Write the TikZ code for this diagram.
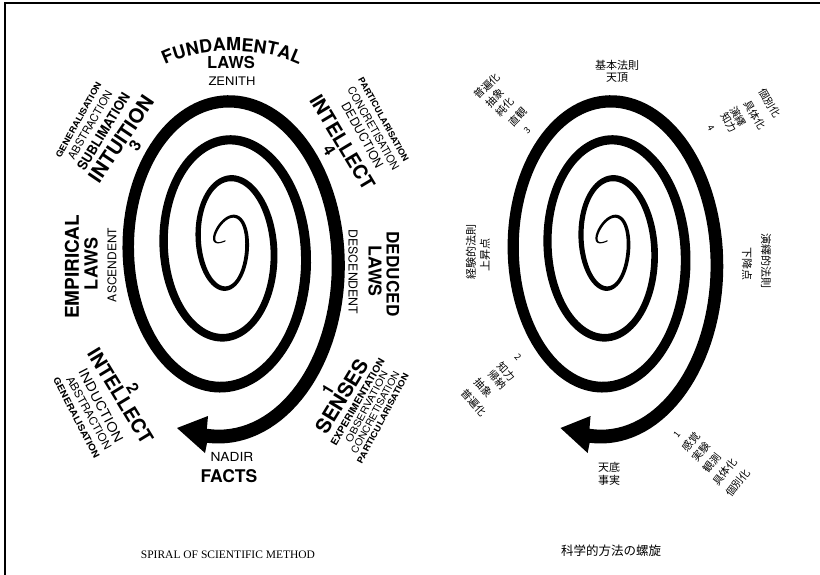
\documentclass[tikz,border=0pt]{standalone}
\usepackage{fontspec}
\setmainfont{TeX Gyre Heros}
\newfontfamily\capfont{Liberation Serif}
\newfontfamily\jpfont{Noto Sans CJK JP}
\usetikzlibrary{decorations.text}
\newcommand\myfs[1]{\fontsize{#1}{#1}\selectfont}
\tikzset{
  lbl/.style={inner sep=0pt, outer sep=0pt, text=black},
  big/.style={lbl, font=\bfseries\myfs{#1}},
  med/.style={lbl, font=\myfs{#1}},
  jp/.style={lbl, font=\jpfont\myfs{#1}},
  capstyle/.style={lbl, font=\capfont\myfs{#1}},
  spiralpic/.pic={
    \fill[black]
      plot[variable=\t, domain=-0.4:7.547, samples=500]
        ({spx(\t)-(spa(\t)+spw(\t)/2)*cos(180*\t)},{spy(\t)-(spb(\t)+spw(\t)/2)*sin(180*\t)})
      -- (205,453) -- (177,428) -- (208,416)
      -- plot[variable=\t, domain=7.547:-0.4, samples=500]
        ({spx(\t)-(spa(\t)-spw(\t)/2)*cos(180*\t)},{spy(\t)-(spb(\t)-spw(\t)/2)*sin(180*\t)})
      -- cycle;
  }
}
\begin{document}
\begin{tikzpicture}[x=1pt,y=-1pt,
  declare function={
    spa(\u)=15+8.5*((\u-1.2)+sqrt((\u-1.2)*(\u-1.2)+0.25));
    spb(\u)=12.1+22*\u;
    spx(\u)=230-0.8*\u;
    spy(\u)=238.7+2.75*\u;
    spw(\u)=2.2+1.55*\u;
  }]
\useasboundingbox (0,0) rectangle (820,575);
\fill[white] (0,0) rectangle (820,575);
\draw[line width=2pt] (5,575) -- (5,3.5) -- (820,3.5);

% spirals
\pic (spL) at (0,0) {spiralpic};
\pic[xscale=0.97] (spR) at (388.8,0) {spiralpic};

% ---------- English labels ----------
\path[decorate, decoration={text along path, text align=center,
  text={|\bfseries\myfs{18}|FUNDAMENTAL}}]
  (162,66) .. controls (200,46) and (264,46) .. (302,66);
\node[big=16.5] (lawsT) at (231,62.5) {LAWS};
\node[med=11.8, xscale=1.1] (zenith) at (232,81.5) {ZENITH};

% upper left
\node[big=8.5, rotate=61, xscale=1.13] (genUL) at (78.5,120) {GENERALISATION};
\node[med=11, rotate=60] (absUL) at (90,125) {ABSTRACTION};
\node[big=13.5, rotate=58.5, xscale=0.95] (subUL) at (103.5,131.5) {SUBLIMATION};
\node[big=20, rotate=56] (intuit) at (121,139) {INTUITION};
\node[big=16, rotate=56] (n3) at (135,146) {3};

% upper right
\node[big=8.5, rotate=-61, xscale=1.07] (partUR) at (383.5,119.5) {PARTICULARISATION};
\node[med=11, rotate=-60.5, xscale=0.96] (concUR) at (373.5,128.5) {CONCRETISATION};
\node[med=12.3, rotate=-61] (dedUR) at (362.5,135) {DEDUCTION};
\node[big=19.5, rotate=-59] (intelUR) at (342.5,142.5) {INTELLECT};
\node[big=16, rotate=-59] (n4) at (329.2,150.5) {4};

% middle
\node[big=19, rotate=90] (empir) at (72,267) {EMPIRICAL};
\node[big=18, rotate=90] (lawsL) at (91,264) {LAWS};
\node[med=12, rotate=90] (ascend) at (112,265) {ASCENDENT};
\node[big=17.2, rotate=-90] (deduced) at (393,274) {DEDUCED};
\node[big=17.7, rotate=-90] (lawsR) at (375,271) {LAWS};
\node[med=12.3, rotate=-90] (descend) at (353,272) {DESCENDENT};

% lower left
\node[big=19.5, rotate=-58.7] (intelLL) at (120.5,396) {INTELLECT};
\node[big=16, rotate=-59] (n2) at (133,388.5) {2};
\node[med=13, rotate=-62.5, xscale=1.12] (induct) at (101,405.5) {INDUCTION};
\node[med=11, rotate=-61.3, xscale=1.05] (absLL) at (89,413) {ABSTRACTION};
\node[big=9, rotate=-62.6, xscale=1.13] (genLL) at (76.5,418) {GENERALISATION};

% lower right
\node[big=20.4, rotate=58.8] (senses) at (341.7,396.3) {SENSES};
\node[big=16, rotate=59] (n1) at (327.8,389.3) {1};
\node[big=9.7, rotate=60, xscale=1.07] (exper) at (357.5,402) {EXPERIMENTATION};
\node[med=9.7, rotate=62, xscale=1.16] (obs) at (366.6,406.8) {OBSERVATION};
\node[med=9.7, rotate=61.8, xscale=1.07] (concLR) at (375.2,412.5) {CONCRETISATION};
\node[big=8.4, rotate=62, xscale=1.15] (partLR) at (382.8,418.5) {PARTICULARISATION};

% bottom
\node[med=12.5, xscale=1.1] (nadir) at (232,457) {NADIR};
\node[big=17.5] (facts) at (229,476.5) {FACTS};
\node[capstyle=11.5] (capE) at (228,555) {SPIRAL OF SCIENTIFIC METHOD};

% ---------- Japanese labels ----------
\node[jp=11] (kihon) at (617,65) {基本法則};
\node[jp=11] (tencho) at (617,77.5) {天頂};

\node[jp=10.5, rotate=45] (jUL1) at (487,86) {普遍化};
\node[jp=10.5, rotate=45] (jUL2) at (495,98) {抽象};
\node[jp=10.5, rotate=45] (jUL3) at (505,107) {純化};
\node[jp=10.5, rotate=45] (jUL4) at (518,117) {直観};
\node[jp=9, rotate=45] (jUL5) at (527,130) {3};

\node[jp=10.5, rotate=-60] (jUR1) at (770,103) {個別化};
\node[jp=10.5, rotate=-60] (jUR2) at (755,115) {具体化};
\node[jp=10.5, rotate=-60] (jUR3) at (738,117) {演繹};
\node[jp=10.5, rotate=-60] (jUR4) at (729,123) {知力};
\node[jp=9, rotate=-60] (jUR5) at (711,128) {4};

\node[jp=11, rotate=90] (jML1) at (471,252) {経験的法則};
\node[jp=11, rotate=90] (jML2) at (485,255) {上昇点};
\node[jp=11, rotate=-90] (jMR1) at (766,261) {演繹的法則};
\node[jp=11, rotate=-90] (jMR2) at (747,264) {下降点};

\node[jp=9, rotate=-48] (jLL1) at (518,357) {2};
\node[jp=10.5, rotate=-48] (jLL2) at (506,372) {知力};
\node[jp=10.5, rotate=-48] (jLL3) at (497,380) {帰納};
\node[jp=10.5, rotate=-48] (jLL4) at (483,388) {抽象};
\node[jp=10.5, rotate=-48] (jLL5) at (474,403) {普遍化};

\node[jp=9, rotate=52] (jLR1) at (677,435) {1};
\node[jp=10.5, rotate=52] (jLR2) at (691,442) {感覚};
\node[jp=10.5, rotate=52] (jLR3) at (701,452) {実験};
\node[jp=10.5, rotate=52] (jLR4) at (712,463) {観測};
\node[jp=10.5, rotate=52] (jLR5) at (725,472) {具体化};
\node[jp=10.5, rotate=52] (jLR6) at (738,483) {個別化};

\node[jp=11] (tentei) at (609,467) {天底};
\node[jp=11] (jijitsu) at (609,480) {事実};
\node[jp=12.5] (capJ) at (611,551) {科学的方法の螺旋};
\end{tikzpicture}
\end{document}
